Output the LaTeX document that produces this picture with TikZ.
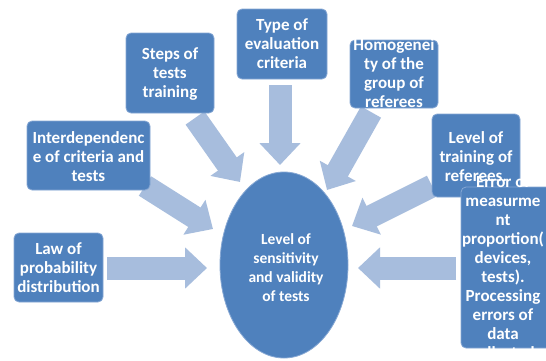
\documentclass[tikz,border=0pt]{standalone}
\usepackage{fontspec}
\setmainfont{Carlito}
\usetikzlibrary{arrows.meta,shapes.geometric}
\definecolor{boxblue}{RGB}{79,129,189}
\definecolor{boxedge}{RGB}{135,168,212}
\definecolor{arrowblue}{RGB}{167,189,221}
\tikzset{
  box/.style={draw=boxedge, line width=0.8pt, fill=boxblue, rounded corners=5pt, inner sep=0pt},
  boxtext/.style={text=white, font=\bfseries\fontsize{17}{19}\selectfont, align=center, inner sep=0pt},
  midtext/.style={text=white, font=\bfseries\fontsize{15.5}{19}\selectfont, align=center, inner sep=0pt},
  blockarrow/.style={draw=arrowblue, line width=23pt, -{Triangle[length=22pt, width=40pt]}},
}
\begin{document}
\begin{tikzpicture}[x=1pt,y=-1pt]
\useasboundingbox (0,0) rectangle (546,360);
\clip (0,0) rectangle (546,360);
\fill[white] (0,0) rectangle (546,360);

% arrow end points
\coordinate (a1s) at (280,85);  \coordinate (a1e) at (280,165);
\coordinate (a2s) at (195,118); \coordinate (a2e) at (240,182);
\coordinate (a3s) at (145,186); \coordinate (a3e) at (213,229);
\coordinate (a4s) at (107,268); \coordinate (a4e) at (207,268);
\coordinate (a5s) at (371,112); \coordinate (a5e) at (327,190);
\coordinate (a6s) at (432,186); \coordinate (a6e) at (352,226);
\coordinate (a7s) at (456,268); \coordinate (a7e) at (358,268);

\draw[blockarrow] (a1s) -- (a1e);
\draw[blockarrow] (a2s) -- (a2e);
\draw[blockarrow] (a3s) -- (a3e);
\draw[blockarrow] (a4s) -- (a4e);
\draw[blockarrow] (a5s) -- (a5e);
\draw[blockarrow] (a6s) -- (a6e);
\draw[blockarrow] (a7s) -- (a7e);

% centre ellipse
\node[ellipse, draw=boxedge, line width=0.8pt, fill=boxblue, minimum width=128pt, minimum height=186pt, inner sep=0pt] (mid) at (284,265) {};
\node[midtext] (midt) at (286,268) {Level of\\sensitivity\\and validity\\of tests};

% boxes
\node[box, minimum width=90pt, minimum height=70pt] (type) at (282,44) {};
\node[boxtext] (typet) at (type) {Type of\\evaluation\\criteria};

\node[box, minimum width=88pt, minimum height=80pt] (steps) at (170,73) {};
\node[boxtext] (stepst) at (170,74) {Steps of\\tests\\training};

\node[box, minimum width=123pt, minimum height=69pt] (inter) at (88.5,155.5) {};
\node[boxtext] (intert) at (88.5,157) {Interdependenc\\e of criteria and\\tests};

\node[box, minimum width=89pt, minimum height=69pt] (law) at (58.5,267.5) {};
\node[boxtext] (lawt) at (58.5,268) {Law of\\probability\\distribution};

\node[box, minimum width=88pt, minimum height=68pt] (homo) at (394,74) {};
\node[boxtext] (homot) at (394,73) {Homogenei\\ty of the\\group of\\referees};

\node[box, minimum width=88pt, minimum height=83pt] (level) at (476,155.5) {};
\node[boxtext] (levelt) at (476,157) {Level of\\training of\\referees.};

\node[box, minimum width=96pt, minimum height=161pt] (err) at (509,267.5) {};
\node[boxtext] (errt) at (503,267) {Error of\\measurme\\nt\\proportion(\\devices,\\tests).\\Processing\\errors of\\data\\collected};
\end{tikzpicture}
\end{document}
